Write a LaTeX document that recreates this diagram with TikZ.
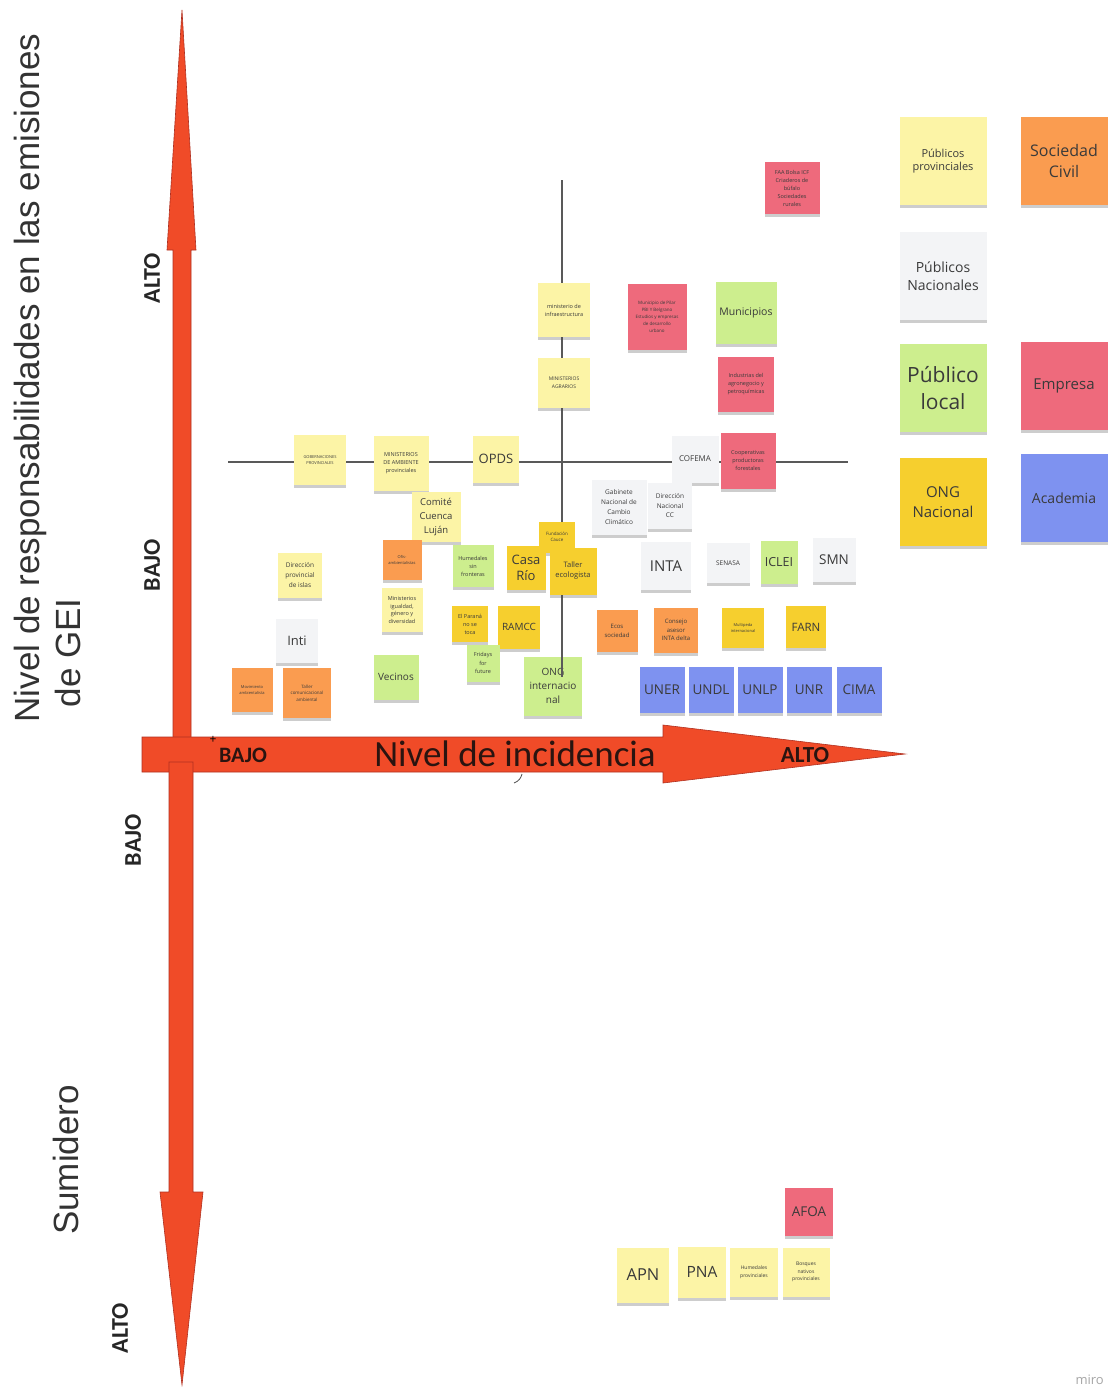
\documentclass[tikz,border=0pt]{standalone}
\usepackage{fontspec}
\setmainfont{Open Sans}
\newfontfamily\arialf{Liberation Sans}
\newfontfamily\calf{Carlito}
\usetikzlibrary{shadows}
\definecolor{ny}{HTML}{FCF4A6}
\definecolor{no}{HTML}{FA9C50}
\definecolor{ng}{HTML}{CDEE8E}
\definecolor{nr}{HTML}{EE6A7C}
\definecolor{nw}{HTML}{F3F4F6}
\definecolor{nd}{HTML}{F6CF2E}
\definecolor{nb}{HTML}{7E92F0}
\definecolor{arr}{HTML}{F04B28}
\definecolor{arrd}{HTML}{B03020}
\definecolor{txt}{HTML}{3A3A3A}
\definecolor{atxt}{HTML}{2A1410}
\newcommand\nfs[2]{\fontsize{#1}{#2}\selectfont}
\begin{document}
\begin{tikzpicture}[x=1pt,y=-1pt,
  note/.style={fill=#1, text=txt, align=center, inner sep=1pt,
    drop shadow={shadow xshift=0pt, shadow yshift=-3pt, opacity=0.28, fill=black!70}},
  sz/.style 2 args={minimum width=#1pt, minimum height=#2pt},
  arrow shape/.style={fill=arr, draw=arrd, line width=0.6pt, line join=miter},
  axlab/.style={font=\calf\bfseries\nfs{23}{26}, text=atxt},
  vlab/.style={font=\calf\bfseries\nfs{24}{26}, text=black!85, rotate=90},
  grid line/.style={draw=black!65, line width=1.1pt}]
\useasboundingbox[fill=white] (0,0) rectangle (1108,1387);

% --- grid lines
\draw[grid line] (228,462) -- (848,462);
\draw[grid line] (562,180) -- (562,677);

% --- axes (arrows)
\fill[arrow shape] (173,742) -- (173,250) -- (167,250) -- (182,10) -- (196,250) -- (191,250) -- (191,742) -- cycle;
\fill[arrow shape] (142,737) -- (663,737) -- (663,725) -- (905,754) -- (663,783) -- (663,772) -- (142,772) -- cycle;
\fill[arrow shape] (169,762) -- (193,762) -- (193,1192) -- (203,1192) -- (182,1385) -- (160,1192) -- (169,1192) -- cycle;

\node[axlab, font=\calf\bfseries\nfs{22}{24}] (hbajo) at (243,755) {BAJO};
\node[font=\calf\nfs{37}{40}, text=atxt] (hnivel) at (515,754) {Nivel de incidencia};
\node[axlab] (halto) at (805,755) {ALTO};
\node[font=\nfs{12}{12}, text=black] (plus) at (213,740) {+};
\draw[black!70, line width=0.8pt] (514,783) .. controls (519,781) and (521,778) .. (522,774);

\node[vlab] (valto1) at (152,278) {ALTO};
\node[vlab] (vbajo1) at (152,565) {BAJO};
\node[vlab] (vbajo2) at (133,840) {BAJO};
\node[vlab] (valto2) at (120,1328) {ALTO};

\node[rotate=90, align=left, font=\arialf\nfs{35}{41}, text=black!80] (ylab) at (47,378) {Nivel de responsabilidades en las emisiones\\\hspace*{15pt}de GEI};
\node[rotate=90, font=\arialf\nfs{35}{41}, text=black!80] (sumid) at (66,1160) {Sumidero};

% --- legend
\node[note=ny, sz={87}{88}, font=\nfs{11}{13}] (lpp) at (943,161) {Públicos\\provinciales};
\node[note=no, sz={87}{88}, font=\nfs{16}{21}] (lsc) at (1064,161) {Sociedad\\Civil};
\node[note=nw, sz={87}{88}, font=\nfs{14}{18}] (lpn) at (943,276) {Públicos\\Nacionales};
\node[note=ng, sz={87}{88}, font=\nfs{21}{27}] (lpl) at (943,388) {Público\\local};
\node[note=nr, sz={87}{88}, font=\nfs{15}{18}] (lem) at (1064,386) {Empresa};
\node[note=nd, sz={87}{88}, font=\nfs{15}{20}] (lon) at (943,502) {ONG\\Nacional};
\node[note=nb, sz={87}{88}, font=\nfs{14}{18}] (lac) at (1064,498) {Academia};

% --- upper region
\node[note=nr, sz={55}{52}, font=\nfs{5.5}{8}] (faa) at (792,188) {FAA Bolsa ICF\\Criaderos de\\búfalo\\Sociedades\\rurales};
\node[note=ny, sz={52}{54}, font=\nfs{5.5}{8}] (minf) at (564,310) {ministerio de\\infraestructura};
\node[note=nr, sz={59}{66}, font=\nfs{4.5}{7}] (mpil) at (657,317) {Municipio de Pilar\\PBI Y Belgrano\\Estudios y empresas\\de desarrollo\\urbano};
\node[note=ng, sz={61}{62}, font=\nfs{10.5}{13}] (muni) at (746,313) {Municipios};
\node[note=ny, sz={52}{50}, font=\nfs{5}{8}] (magr) at (564,383) {MINISTERIOS\\AGRARIOS};
\node[note=nr, sz={56}{55}, font=\nfs{5.5}{8}] (indu) at (746,384) {Industrias del\\agronegocio y\\petroquímicas};

% --- middle row
\node[note=ny, sz={52}{50}, font=\nfs{4}{6}] (gobp) at (320,460) {GOBERNACIONES\\PROVINCIALES};
\node[note=ny, sz={55}{55}, font=\nfs{5.5}{8}] (mamb) at (401,463) {MINISTERIOS\\DE AMBIENTE\\provinciales};
\node[note=ny, sz={46}{47}, font=\nfs{13}{15}] (opds) at (496,459) {OPDS};
\node[note=ny, sz={49}{50}, font=\nfs{9.5}{14}] (ccl) at (436,517) {Comité\\Cuenca\\Luján};
\node[note=nw, sz={47}{47}, font=\nfs{8}{10}] (cofema) at (695,459) {COFEMA};
\node[note=nr, sz={55}{56}, font=\nfs{5.5}{8}] (coop) at (748,461) {Cooperativas\\productoras\\forestales};
\node[note=nw, sz={55}{55}, font=\nfs{6.5}{10}] (gncc) at (619,507) {Gabinete\\Nacional de\\Cambio\\Climático};
\node[note=nw, sz={44}{46}, font=\nfs{6.5}{9.5}] (dncc) at (670,506) {Dirección\\Nacional\\CC};

% --- lower-left cluster
\node[note=ny, sz={44}{45}, font=\nfs{6.5}{10}] (dpi) at (300,575) {Dirección\\provincial\\de islas};
\node[note=nw, sz={42}{44}, font=\nfs{13}{15}] (inti) at (297,641) {Inti};
\node[note=no, sz={39}{40}, font=\nfs{4}{6}] (ofis) at (402,560) {Ofis-\\ambientalistas};
\node[note=ny, sz={41}{44}, font=\nfs{5.5}{7.5}] (migd) at (402,610) {Ministerios\\igualdad,\\género y\\diversidad};
\node[note=ng, sz={41}{42}, font=\nfs{5.5}{8}] (hsf) at (473,566) {Humedales\\sin\\fronteras};
\node[note=nd, sz={36}{31}, font=\nfs{4.5}{6}] (fcau) at (557,537) {Fundación\\Cauce};
\node[note=nd, sz={39}{44}, font=\nfs{13}{16}] (casa) at (526,568) {Casa\\Río};
\node[note=nd, sz={47}{47}, font=\nfs{7.5}{10}] (tall) at (573,571) {Taller\\ecologista};
\node[note=nd, sz={36}{36}, font=\nfs{5.5}{8}] (epar) at (470,624) {El Paraná\\no se\\toca};
\node[note=nd, sz={42}{43}, font=\nfs{10}{12}] (ramcc) at (519,627) {RAMCC};
\node[note=ng, sz={33}{37}, font=\nfs{5.5}{8.5}] (fff) at (483,663) {Fridays\\for\\future};
\node[note=ng, sz={45}{45}, font=\nfs{10}{12}] (vec) at (396,677) {Vecinos};
\node[note=ng, sz={58}{59}, font=\nfs{10}{14}] (ongi) at (553,686) {ONG\\internacio\\nal};
\draw[grid line] (562,657) -- (562,677);
\node[note=no, sz={41}{44}, font=\nfs{4}{6}] (movi) at (252,690) {Movimiento\\ambientalista};
\node[note=no, sz={48}{50}, font=\nfs{4.5}{6.5}] (tcom) at (307,693) {Taller\\comunicacional\\ambiental};

% --- lower-right cluster
\node[note=nw, sz={50}{48}, font=\nfs{15}{17}] (inta) at (666,566) {INTA};
\node[note=nw, sz={43}{40}, font=\nfs{6.5}{8}] (sena) at (728,563) {SENASA};
\node[note=ng, sz={37}{43}, font=\nfs{12.5}{14}] (icle) at (779,562) {ICLEI};
\node[note=nw, sz={43}{44}, font=\nfs{13.5}{15}] (smn) at (834,560) {SMN};
\node[note=no, sz={41}{42}, font=\nfs{6}{8.5}] (ecos) at (617,631) {Ecos\\sociedad};
\node[note=no, sz={44}{45}, font=\nfs{6}{8.5}] (casi) at (676,630) {Consejo\\asesor\\INTA delta};
\node[note=nd, sz={42}{40}, font=\nfs{4}{6}] (mult) at (743,628) {Multipeda\\internacional};
\node[note=nd, sz={40}{42}, font=\nfs{11.5}{13}] (farn) at (806,627) {FARN};
\node[note=nb, sz={45}{46}, font=\nfs{13.5}{15}] (uner) at (662,690) {UNER};
\node[note=nb, sz={45}{46}, font=\nfs{13.5}{15}] (undl) at (711,690) {UNDL};
\node[note=nb, sz={45}{46}, font=\nfs{13.5}{15}] (unlp) at (760,690) {UNLP};
\node[note=nb, sz={45}{46}, font=\nfs{13.5}{15}] (unr) at (809,690) {UNR};
\node[note=nb, sz={45}{46}, font=\nfs{13.5}{15}] (cima) at (859,690) {CIMA};

% --- sink region
\node[note=nr, sz={48}{48}, font=\nfs{13.5}{15}] (afoa) at (809,1212) {AFOA};
\node[note=ny, sz={52}{55}, font=\nfs{16.5}{18}] (apn) at (643,1275) {APN};
\node[note=ny, sz={48}{51}, font=\nfs{15.5}{17}] (pna) at (702,1272) {PNA};
\node[note=ny, sz={48}{49}, font=\nfs{5}{7.5}] (hprov) at (754,1272) {Humedales\\provinciales};
\node[note=ny, sz={47}{49}, font=\nfs{5}{7.5}] (bnp) at (806,1272) {Bosques\\nativos\\provinciales};

\node[anchor=west, font=\nfs{13}{15}, text=black!35] (miro) at (1072,1380) {miro};
\end{tikzpicture}
\end{document}
